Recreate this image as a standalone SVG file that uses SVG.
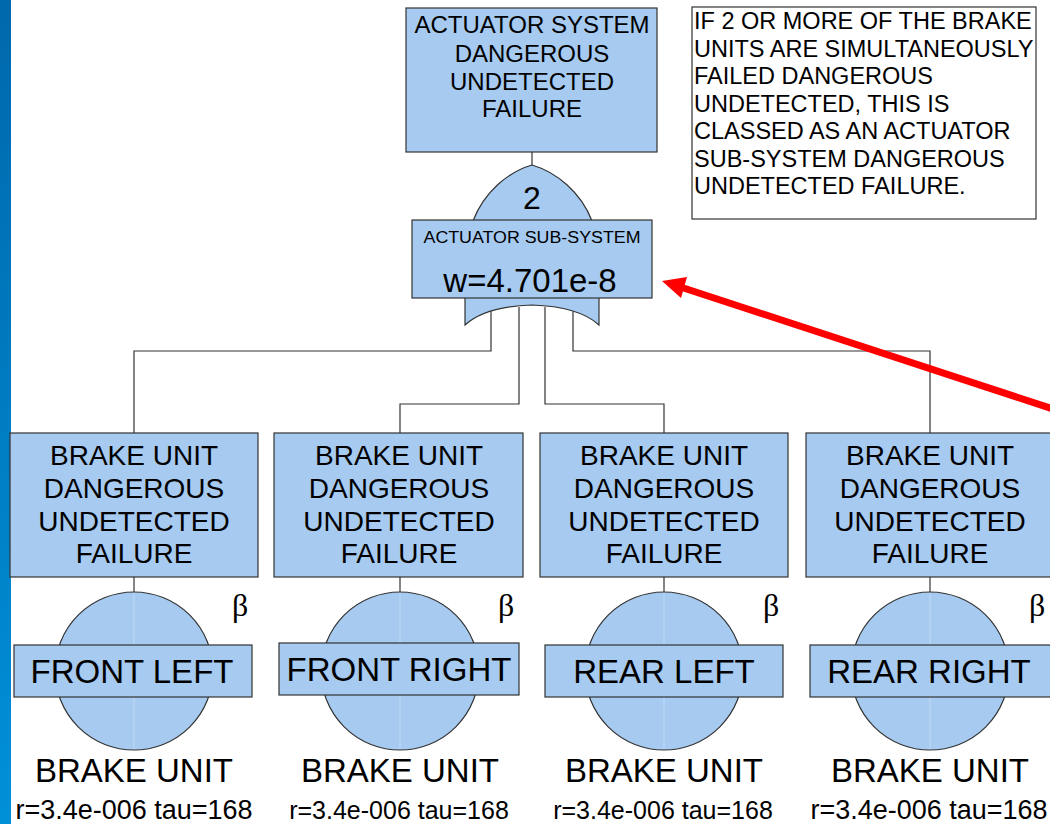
<svg xmlns="http://www.w3.org/2000/svg" width="1050" height="824" viewBox="0 0 1050 824">
<defs>
<linearGradient id="bar" x1="0" y1="0" x2="0" y2="1">
<stop offset="0" stop-color="#0068ac"/>
<stop offset="1" stop-color="#0090d8"/>
</linearGradient>
</defs>
<style>
.box{fill:#a6caf0;stroke:#333;stroke-width:1.2}
.conn{fill:none;stroke:#333;stroke-width:1.2}
.inner{stroke:#c2dbf5;stroke-width:1}
text{font-family:"Liberation Sans",Arial,sans-serif;fill:#000}
.c{text-anchor:middle}
.t24{font-size:24px}
.t28{font-size:28px}
.t32{font-size:33px}
.t33{font-size:33px}
.beta{font-family:"Liberation Serif","Times New Roman",serif;font-size:32px}
</style>
<rect x="0" y="0" width="11" height="824" fill="url(#bar)"/>

<g id="connectors">
<line class="conn" x1="532" y1="152" x2="532" y2="166"/>
<polyline class="conn" points="491,310 491,351 134,351 134,433"/>
<polyline class="conn" points="519,307 519,404 400,404 400,433"/>
<polyline class="conn" points="545,307 545,404 664,404 664,433"/>
<polyline class="conn" points="573,310 573,351 930,351 930,433"/>
<line class="conn" x1="134" y1="577" x2="134" y2="592"/>
<line class="conn" x1="400" y1="577" x2="400" y2="592"/>
<line class="conn" x1="664" y1="577" x2="664" y2="592"/>
<line class="conn" x1="930" y1="577" x2="930" y2="592"/>
</g>

<g id="top-event">
<rect class="box" x="406" y="8" width="251" height="144"/>
<text class="c t24" x="532" y="33">ACTUATOR SYSTEM</text>
<text class="c t24" x="532" y="62">DANGEROUS</text>
<text class="c t24" x="532" y="90">UNDETECTED</text>
<text class="c t24" x="532" y="117">FAILURE</text>
</g>

<g id="vote-gate">
<path class="box" d="M473,221 C484,192 508,172 532,165 C556,172 581,192 592,221 Z"/>
<text class="c" x="532" y="209" font-size="32">2</text>
<path class="box" d="M465,297 H599 V325 C586,313 562,306 532,305 C502,306 478,313 465,325 Z"/>
<rect class="box" x="412" y="220" width="240" height="78"/>
<text class="c" x="532" y="243" font-size="16" textLength="217" lengthAdjust="spacingAndGlyphs">ACTUATOR SUB-SYSTEM</text>
<text class="c" x="530" y="292" font-size="33">w=4.701e-8</text>
</g>

<g id="note">
<rect x="692" y="7" width="344" height="212" fill="#fff" stroke="#333" stroke-width="1.2"/>
<text font-size="23.5" x="694">
<tspan x="694" y="29">IF 2 OR MORE OF THE BRAKE</tspan>
<tspan x="694" y="56.5">UNITS ARE SIMULTANEOUSLY</tspan>
<tspan x="694" y="84">FAILED DANGEROUS</tspan>
<tspan x="694" y="111.5">UNDETECTED, THIS IS</tspan>
<tspan x="694" y="139">CLASSED AS AN ACTUATOR</tspan>
<tspan x="694" y="166.5">SUB-SYSTEM DANGEROUS</tspan>
<tspan x="694" y="194">UNDETECTED FAILURE.</tspan>
</text>
</g>

<g id="brake-fl">
<rect class="box" x="10" y="433" width="248" height="144"/>
<text class="c t28" x="134" y="465">BRAKE UNIT</text>
<text class="c t28" x="134" y="498">DANGEROUS</text>
<text class="c t28" x="134" y="531">UNDETECTED</text>
<text class="c t28" x="134" y="563">FAILURE</text>
<circle class="box" cx="134" cy="671" r="79"/>
<line class="inner" x1="134" y1="593" x2="134" y2="749"/>
<rect class="box" x="14" y="645" width="238" height="52"/>
<text class="c t33" x="132" y="683">FRONT LEFT</text>
<text class="beta" x="232" y="616">β</text>
<text class="c t32" x="134" y="782">BRAKE UNIT</text>
<text class="c" x="134" y="819" font-size="27">r=3.4e-006 tau=168</text>
</g>

<g id="brake-fr">
<rect class="box" x="274" y="433" width="249" height="144"/>
<text class="c t28" x="399" y="465">BRAKE UNIT</text>
<text class="c t28" x="399" y="498">DANGEROUS</text>
<text class="c t28" x="399" y="531">UNDETECTED</text>
<text class="c t28" x="399" y="563">FAILURE</text>
<circle class="box" cx="400" cy="671" r="79"/>
<line class="inner" x1="400" y1="593" x2="400" y2="749"/>
<rect class="box" x="279" y="643" width="240" height="52"/>
<text class="c t33" x="399" y="681">FRONT RIGHT</text>
<text class="beta" x="498" y="616">β</text>
<text class="c t32" x="400" y="782">BRAKE UNIT</text>
<text class="c" x="399" y="819" font-size="25">r=3.4e-006 tau=168</text>
</g>

<g id="brake-rl">
<rect class="box" x="540" y="433" width="248" height="144"/>
<text class="c t28" x="664" y="465">BRAKE UNIT</text>
<text class="c t28" x="664" y="498">DANGEROUS</text>
<text class="c t28" x="664" y="531">UNDETECTED</text>
<text class="c t28" x="664" y="563">FAILURE</text>
<circle class="box" cx="664" cy="671" r="79"/>
<line class="inner" x1="664" y1="593" x2="664" y2="749"/>
<rect class="box" x="545" y="645" width="238" height="52"/>
<text class="c t33" x="664" y="683">REAR LEFT</text>
<text class="beta" x="763" y="616">β</text>
<text class="c t32" x="664" y="782">BRAKE UNIT</text>
<text class="c" x="663" y="819" font-size="25">r=3.4e-006 tau=168</text>
</g>

<g id="brake-rr">
<rect class="box" x="806" y="433" width="250" height="144"/>
<text class="c t28" x="930" y="465">BRAKE UNIT</text>
<text class="c t28" x="930" y="498">DANGEROUS</text>
<text class="c t28" x="930" y="531">UNDETECTED</text>
<text class="c t28" x="930" y="563">FAILURE</text>
<circle class="box" cx="930" cy="671" r="79"/>
<line class="inner" x1="930" y1="593" x2="930" y2="749"/>
<rect class="box" x="810" y="645" width="245" height="52"/>
<text class="c t33" x="929" y="683">REAR RIGHT</text>
<text class="beta" x="1029" y="616">β</text>
<text class="c t32" x="930" y="782">BRAKE UNIT</text>
<text class="c" x="929" y="819" font-size="27">r=3.4e-006 tau=168</text>
</g>

<g id="red-arrow">
<line x1="1052" y1="408.6" x2="682" y2="287.5" stroke="#ff0000" stroke-width="7"/>
<polygon points="662,281 687,277 681,298" fill="#ff0000"/>
</g>
</svg>
